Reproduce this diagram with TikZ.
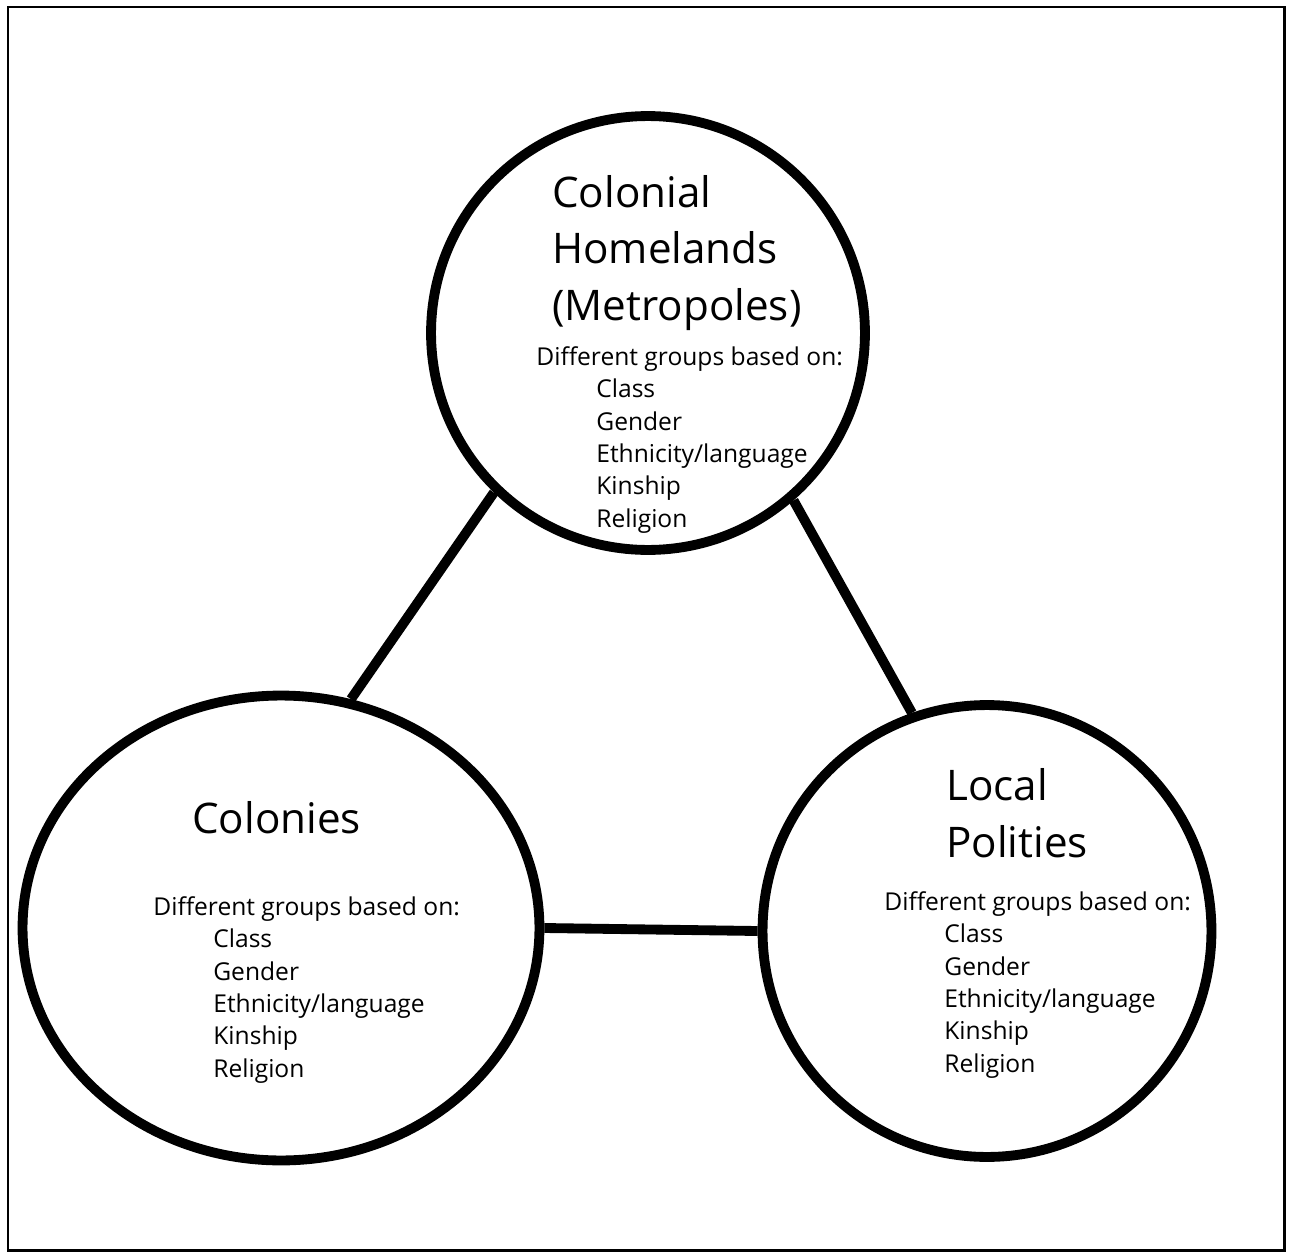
\documentclass[tikz,border=0pt]{standalone}
\usepackage{fontspec}
\setmainfont{Open Sans}
\usetikzlibrary{shapes.geometric}

\newcommand{\grouplist}{Different groups based on:\\
	\hspace*{1.2cm}Class\\
	\hspace*{1.2cm}Gender\\
	\hspace*{1.2cm}Ethnicity/language\\
	\hspace*{1.2cm}Kinship\\
	\hspace*{1.2cm}Religion}

\tikzset{
	sphere/.style={ellipse, draw, line width=5.6pt, inner sep=0pt},
	title/.style={font=\fontsize{24}{31.9}\selectfont, align=left, inner sep=0pt, anchor=base west},
	body/.style={font=\fontsize{14}{18.4}\selectfont, align=left, inner sep=0pt, anchor=base west},
	link/.style={line width=5.6pt}
}

\begin{document}
\begin{tikzpicture}[x=0.02cm, y=-0.02cm]
	
	\useasboundingbox (0,0) rectangle (1289,1254);
	\draw[line width=1.7pt] (8,7) rectangle (1284,1250);
	
	\node[sphere, minimum width=8.68cm, minimum height=8.68cm] (homelands) at (648,333) {};
	\node[sphere, minimum width=10.34cm, minimum height=9.3cm] (colonies) at (281,928) {};
	\node[sphere, minimum width=8.98cm, minimum height=9.04cm] (polities) at (987,931) {};
	
	\draw[link] (homelands.226) -- (colonies.73);
	\draw[link] (homelands.311) -- (polities.109);
	\draw[link] (colonies.east) -- (polities.west);
	
	% last baseline of each block
	\node[title] (homelandsname) at (552,320) {Colonial\\Homelands\\(Metropoles)};
	\node[body] (homelandsgroups) at (536,527) {\grouplist};
	
	\node[title] (coloniesname) at (192,833) {Colonies};
	\node[body] (coloniesgroups) at (153,1077) {\grouplist};
	
	\node[title] (politiesname) at (946,857) {Local\\Polities};
	\node[body] (politiesgroups) at (884,1072) {\grouplist};
	
\end{tikzpicture}
\end{document}
